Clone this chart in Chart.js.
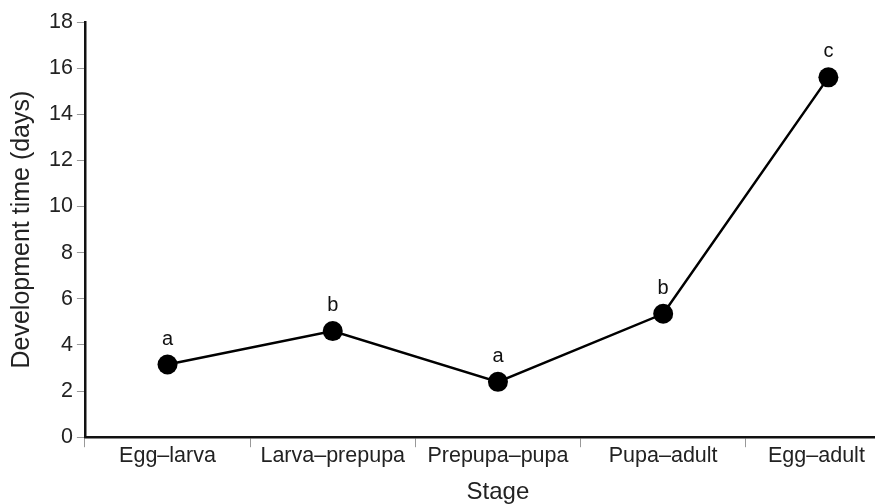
<!DOCTYPE html>
<html>
<head>
<meta charset="utf-8">
<script src="https://cdn.jsdelivr.net/npm/chart.js@4.4.1/dist/chart.umd.min.js"></script>
<style>
  html, body { margin: 0; padding: 0; background: #fff; overflow: hidden; }
  #wrap { position: absolute; left: 0; top: 0; width: 921px; height: 504px; }
</style>
</head>
<body>
<div id="wrap"><canvas id="devChart"></canvas></div>
<script>
const stages = ['Egg\u2013larva', 'Larva\u2013prepupa', 'Prepupa\u2013pupa', 'Pupa\u2013adult', 'Egg\u2013adult'];
const devTime = [3.15, 4.6, 2.4, 5.35, 15.6];
const groupLetters = ['a', 'b', 'a', 'b', 'c'];

const FONT = 'Liberation Sans, Arial, sans-serif';

// letters above each point
const letterPlugin = {
    id: 'letters',
    afterDatasetsDraw(chart) {
        const ctx = chart.ctx;
        const meta = chart.getDatasetMeta(0);
        ctx.save();
        ctx.font = '20px ' + FONT;
        ctx.fillStyle = '#111';
        ctx.textAlign = 'center';
        ctx.textBaseline = 'alphabetic';
        meta.data.forEach(function(pt, i) {
            ctx.fillText(groupLetters[i], pt.x, pt.y - 20);
        });
        ctx.restore();
    }
};

document.addEventListener('DOMContentLoaded', function() {
    const ctx = document.getElementById('devChart').getContext('2d');
    new Chart(ctx, {
        type: 'line',
        data: {
            labels: stages,
            datasets: [{
                data: devTime,
                borderColor: '#000',
                borderWidth: 2.5,
                pointRadius: 10,
                pointHoverRadius: 10,
                pointBackgroundColor: '#000',
                pointBorderColor: '#000',
                pointBorderWidth: 0,
                tension: 0,
                fill: false
            }]
        },
        options: {
            responsive: true,
            maintainAspectRatio: false,
            animation: false,
            layout: { padding: { top: 22, left: 7, right: 0, bottom: 0 } },
            plugins: {
                legend: { display: false },
                tooltip: { enabled: false }
            },
            scales: {
                x: {
                    type: 'category',
                    offset: true,
                    grid: {
                        offset: true,
                        drawOnChartArea: false,
                        tickLength: 10,
                        color: '#999'
                    },
                    border: { color: '#111', width: 2.5 },
                    ticks: {
                        font: { family: FONT, size: 21.5 },
                        color: '#222',
                        padding: -4,
                        maxRotation: 0,
                        // last label sits a bit left so it stays inside the page
                        callback: function(value, index) {
                            const txt = this.getLabelForValue(value);
                            return index === stages.length - 1 ? txt + '\u00a0\u00a0\u00a0\u00a0' : txt;
                        }
                    },
                    title: {
                        display: true,
                        text: 'Stage',
                        font: { family: FONT, size: 24, lineHeight: 1 },
                        color: '#222',
                        padding: { top: 15, bottom: 0 }
                    }
                },
                y: {
                    min: 0,
                    max: 18,
                    ticks: {
                        stepSize: 2,
                        font: { family: FONT, size: 21.5 },
                        color: '#222',
                        padding: 4
                    },
                    grid: {
                        drawOnChartArea: false,
                        tickLength: 8,
                        color: '#999'
                    },
                    border: { color: '#111', width: 2.5 },
                    title: {
                        display: true,
                        text: 'Development time (days)',
                        font: { family: FONT, size: 25 },
                        color: '#222',
                        padding: { top: 0, bottom: 8 }
                    }
                }
            }
        },
        plugins: [letterPlugin]
    });
});
</script>
</body>
</html>
